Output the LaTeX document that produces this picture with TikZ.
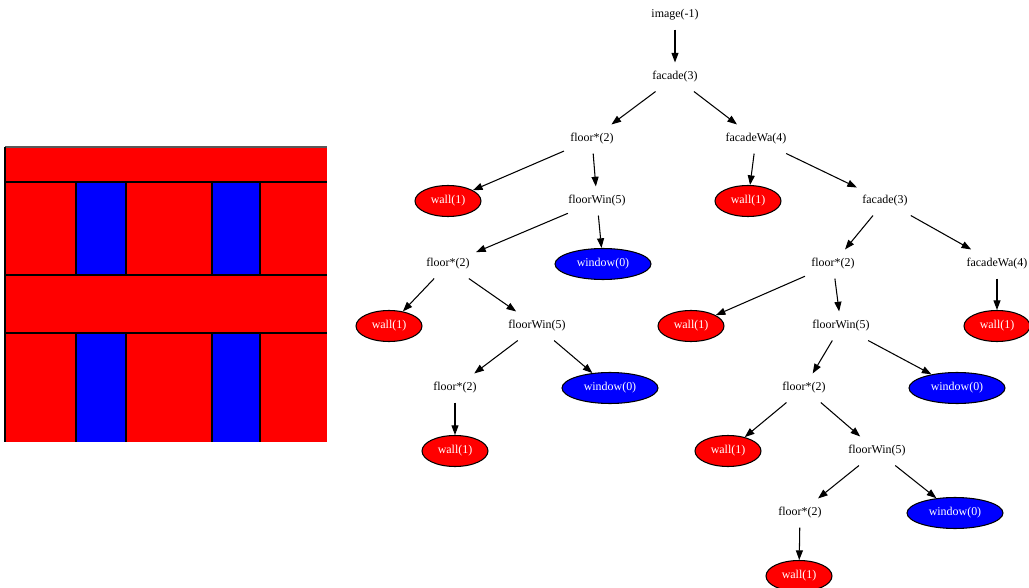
\documentclass[tikz,border=0pt]{standalone}
\usepackage{fontspec}
\setmainfont{Liberation Serif}
\usepackage{tikz}
\usetikzlibrary{arrows.meta,shapes.geometric}

\begin{document}
\begin{tikzpicture}[x=0.02cm,y=-0.02cm,line width=0.6pt,
  lbl/.style={font=\fontsize{6.8}{8}\selectfont,minimum height=0.56cm,minimum width=1.1cm,inner sep=0pt},
  wallnode/.style={ellipse,draw,fill=red,text=white,font=\fontsize{6.8}{8}\selectfont,minimum width=1.32cm,minimum height=0.62cm,inner sep=0pt},
  winnode/.style={ellipse,draw,fill=blue,text=white,font=\fontsize{6.8}{8}\selectfont,minimum width=1.92cm,minimum height=0.62cm,inner sep=0pt}]
\useasboundingbox (0,0) rectangle (1029,588);

% facade picture
\fill[red] (5,147) rectangle (327,442);
\fill[blue] (76,182) rectangle (126,275);
\fill[blue] (212,182) rectangle (260,275);
\fill[blue] (76,333) rectangle (126,442);
\fill[blue] (212,333) rectangle (260,442);
\draw[gray!70!black] (5,147) -- (327,147);
\draw (5,147) -- (5,442);
\draw (5,182) -- (327,182);
\draw (5,275) -- (327,275);
\draw (5,333) -- (327,333);
\foreach \x in {76,126,212,260} {
  \draw (\x,182) -- (\x,275);
  \draw (\x,333) -- (\x,442);
}

% tree
  \node[lbl]         (I) at (675,15)     {image(-1)};
  \node[lbl]         (F0) at (675,77)    {facade(3)};
  \node[lbl]         (FL0) at (592,139)  {floor*(2)};
  \node[lbl]         (FA0) at (756,139)  {facadeWa(4)};
  \node[wallnode]    (W0) at (448,201)   {wall(1)};
  \node[lbl]         (FW0) at (597,201)  {floorWin(5)};
  \node[wallnode]    (W1) at (748,201)   {wall(1)};
  \node[lbl]         (F1) at (885,201)   {facade(3)};
  \node[lbl]         (FL1) at (448,264)  {floor*(2)};
  \node[winnode]     (WI0) at (603,264)  {window(0)};
  \node[lbl]         (FL2) at (833,264)  {floor*(2)};
  \node[lbl]         (FA1) at (997,264)  {facadeWa(4)};
  \node[wallnode]    (W2) at (389,326)   {wall(1)};
  \node[lbl]         (FW1) at (537,326)  {floorWin(5)};
  \node[wallnode]    (W3) at (691,326)   {wall(1)};
  \node[lbl]         (FW2) at (841,326)  {floorWin(5)};
  \node[wallnode]    (W4) at (997,326)   {wall(1)};
  \node[lbl]         (FL3) at (455,388)  {floor*(2)};
  \node[winnode]     (WI1) at (610,388)  {window(0)};
  \node[lbl]         (FL4) at (804,388)  {floor*(2)};
  \node[winnode]     (WI2) at (957,388)  {window(0)};
  \node[wallnode]    (W5) at (455,451)   {wall(1)};
  \node[wallnode]    (W6) at (728,451)   {wall(1)};
  \node[lbl]         (FW3) at (877,451)  {floorWin(5)};
  \node[lbl]         (FL5) at (800,513)  {floor*(2)};
  \node[winnode]     (WI3) at (955,513)  {window(0)};
  \node[wallnode]    (W7) at (799,576)   {wall(1)};

  \path[->,>={Triangle[length=5.5pt,width=4pt]}]
        (I) edge (F0)
        (F0) edge (FL0)
        (F0) edge (FA0)
        (FL0) edge (W0)
        (FL0) edge (FW0)
        (FA0) edge (W1)
        (FA0) edge (F1)
        (FW0) edge (FL1)
        (FW0) edge (WI0)
        (F1) edge (FL2)
        (F1) edge (FA1)
        (FL1) edge (W2)
        (FL1) edge (FW1)
        (FL2) edge (W3)
        (FL2) edge (FW2)
        (FA1) edge (W4)
        (FW1) edge (FL3)
        (FW1) edge (WI1)
        (FW2) edge (FL4)
        (FW2) edge (WI2)
        (FL3) edge (W5)
        (FL4) edge (W6)
        (FL4) edge (FW3)
        (FW3) edge (FL5)
        (FW3) edge (WI3)
        (FL5) edge (W7);

\end{tikzpicture}
\end{document}
